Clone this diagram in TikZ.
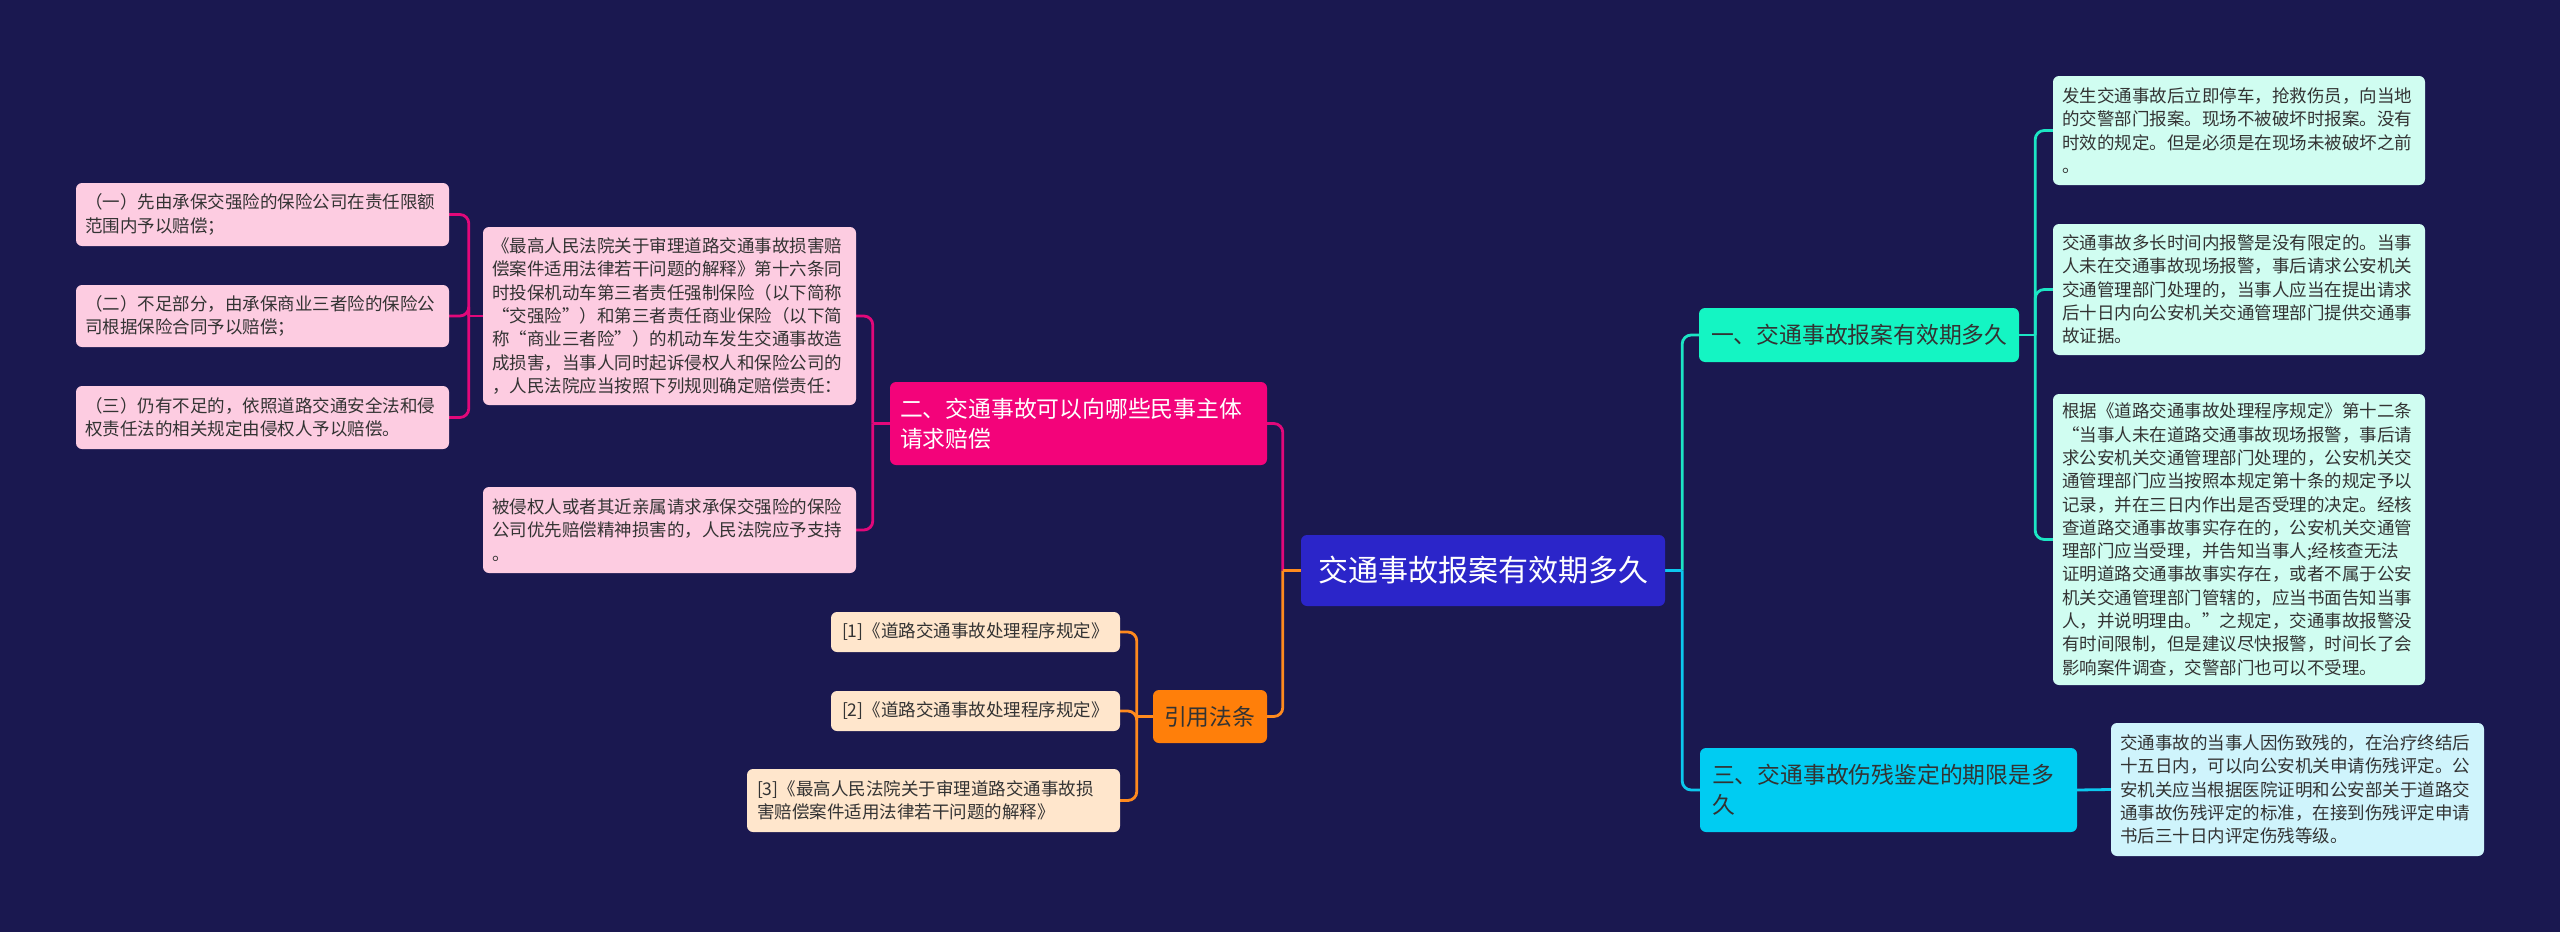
\documentclass[tikz,border=0pt]{standalone}
\usepackage{fontspec}
\setmainfont{Noto Sans CJK SC}
\definecolor{bgc}{HTML}{1A1850}
\definecolor{centc}{HTML}{2B25C9}
\definecolor{tealc}{HTML}{14F5C3}
\definecolor{cyanc}{HTML}{00CCF2}
\definecolor{magc}{HTML}{F3037A}
\definecolor{orc}{HTML}{FF7F0A}
\definecolor{lteal}{HTML}{D0FDF1}
\definecolor{lcyan}{HTML}{CFF4FC}
\definecolor{lpink}{HTML}{FDCCE1}
\definecolor{lor}{HTML}{FFE6CC}
\definecolor{kteal}{HTML}{1CE5C4}
\definecolor{kcyan}{HTML}{0CC8EE}
\definecolor{kmag}{HTML}{E2087A}
\definecolor{kor}{HTML}{FF8A1E}
\definecolor{txtd}{HTML}{333333}
\pgfdeclarelayer{bglayer}
\pgfsetlayers{bglayer,main}
\begin{document}
\begin{tikzpicture}[x=1pt,y=-1pt,
  box/.style={rounded corners=6pt, inner sep=0pt, align=left, text=txtd,
    font=\fontsize{17.5}{23.3}\selectfont},
  leafT/.style={box, fill=lteal},
  leafC/.style={box, fill=lcyan},
  leafP/.style={box, fill=lpink},
  leafO/.style={box, fill=lor},
  branchbox/.style={rounded corners=6pt, inner sep=0pt, align=left,
    font=\fontsize{22.8}{30}\selectfont},
  conn/.style={line width=2.8pt, rounded corners=9pt}
]
\useasboundingbox (0,0) rectangle (2560,932);

% center
\node[rounded corners=6pt, fill=centc, text=white, inner sep=0pt, align=center,
  minimum width=364pt, minimum height=71pt,
  font=\fontsize{30}{36}\selectfont] (c) at (1483,570.5) {交通事故报案有效期多久};

% right branches
\node[branchbox, fill=tealc, text=txtd, minimum width=320pt, minimum height=54pt, text width=296pt]
  (b1) at (1859,335) {一、交通事故报案有效期多久};
\node[branchbox, fill=cyanc, text=txtd, minimum width=377pt, minimum height=84pt, text width=353pt]
  (b3) at (1888.5,790) {三、交通事故伤残鉴定的期限是多\\久};

\node[leafT, minimum width=372pt, minimum height=109pt, text width=354pt] (l1a) at (2239,130.5)
 {发生交通事故后立即停车，抢救伤员，向当地\\的交警部门报案。现场不被破坏时报案。没有\\时效的规定。但是必须是在现场未被破坏之前\\。};
\node[leafT, minimum width=372pt, minimum height=131pt, text width=354pt] (l1b) at (2239,289.5)
 {交通事故多长时间内报警是没有限定的。当事\\人未在交通事故现场报警，事后请求公安机关\\交通管理部门处理的，当事人应当在提出请求\\后十日内向公安机关交通管理部门提供交通事\\故证据。};
\node[leafT, minimum width=372pt, minimum height=291pt, text width=354pt] (l1c) at (2239,539.5)
 {根据《道路交通事故处理程序规定》第十二条\\“当事人未在道路交通事故现场报警，事后请\\求公安机关交通管理部门处理的，公安机关交\\通管理部门应当按照本规定第十条的规定予以\\记录，并在三日内作出是否受理的决定。经核\\查道路交通事故事实存在的，公安机关交通管\\理部门应当受理，并告知当事人;经核查无法\\证明道路交通事故事实存在，或者不属于公安\\机关交通管理部门管辖的，应当书面告知当事\\人，并说明理由。”之规定，交通事故报警没\\有时间限制，但是建议尽快报警，时间长了会\\影响案件调查，交警部门也可以不受理。};
\node[leafC, minimum width=373pt, minimum height=133pt, text width=355pt] (l3) at (2297.5,789.5)
 {交通事故的当事人因伤致残的，在治疗终结后\\十五日内，可以向公安机关申请伤残评定。公\\安机关应当根据医院证明和公安部关于道路交\\通事故伤残评定的标准，在接到伤残评定申请\\书后三十日内评定伤残等级。};

% left branches
\node[branchbox, fill=magc, text=white, minimum width=377pt, minimum height=83pt, text width=357pt]
  (b2) at (1078.5,423.5) {二、交通事故可以向哪些民事主体\\请求赔偿};
\node[leafP, minimum width=373pt, minimum height=178pt, text width=355pt] (l2a) at (669.5,316)
 {《最高人民法院关于审理道路交通事故损害赔\\偿案件适用法律若干问题的解释》第十六条同\\时投保机动车第三者责任强制保险（以下简称\\“交强险”）和第三者责任商业保险（以下简\\称“商业三者险”）的机动车发生交通事故造\\成损害，当事人同时起诉侵权人和保险公司的\\，人民法院应当按照下列规则确定赔偿责任：};
\node[leafP, minimum width=373pt, minimum height=86pt, text width=355pt] (l2b) at (669.5,530)
 {被侵权人或者其近亲属请求承保交强险的保险\\公司优先赔偿精神损害的，人民法院应予支持\\。};
\node[leafP, minimum width=373pt, minimum height=63pt, text width=355pt] (s1) at (262.5,214.5)
 {（一）先由承保交强险的保险公司在责任限额\\范围内予以赔偿；};
\node[leafP, minimum width=373pt, minimum height=62pt, text width=355pt] (s2) at (262.5,316)
 {（二）不足部分，由承保商业三者险的保险公\\司根据保险合同予以赔偿；};
\node[leafP, minimum width=373pt, minimum height=63pt, text width=355pt] (s3) at (262.5,417.5)
 {（三）仍有不足的，依照道路交通安全法和侵\\权责任法的相关规定由侵权人予以赔偿。};

\node[branchbox, fill=orc, text=txtd, minimum width=114pt, minimum height=53pt, text width=92pt]
  (br) at (1210,716.5) {引用法条};
\node[leafO, minimum width=289pt, minimum height=40pt, text width=267pt] (o1) at (975.5,632)
 {[1]《道路交通事故处理程序规定》};
\node[leafO, minimum width=289pt, minimum height=40pt, text width=267pt] (o2) at (975.5,711)
 {[2]《道路交通事故处理程序规定》};
\node[leafO, minimum width=373pt, minimum height=63pt, text width=353pt] (o3) at (933.5,800.5)
 {[3]《最高人民法院关于审理道路交通事故损\\害赔偿案件适用法律若干问题的解释》};

\begin{pgfonlayer}{bglayer}
\fill[bgc] (0,0) rectangle (2560,932);
% center right
\draw[conn, kteal] (c.east) -- ++(17,0) coordinate (cr);
\draw[conn, kteal] (cr) |- (b1.west);
\draw[conn, kcyan] (cr) |- (b3.west);
\draw[conn, kcyan] (c.east) -- (cr);
% branch 1
\draw[conn, kteal] (b1.east) -- ++(16,0) coordinate (b1r);
\draw[conn, kteal] (b1r) |- (l1a.west);
\draw[conn, kteal] (b1r) |- (l1b.west);
\draw[conn, kteal] (b1r) |- (l1c.west);
% branch 3
\draw[conn, kcyan] (b3.east) -- (l3.west);
% center left
\draw[conn, kmag] (c.west) -- ++(-18,0) coordinate (cl);
\draw[conn, kmag] (cl) |- (b2.east);
\draw[conn, kor] (cl) |- (br.east);
\draw[conn, kor] (c.west) -- (cl);
% branch 2
\draw[conn, kmag] (b2.west) -- ++(-17,0) coordinate (b2l);
\draw[conn, kmag] (b2l) |- (l2a.east);
\draw[conn, kmag] (b2l) |- (l2b.east);
\draw[conn, kmag] (l2a.west) -- ++(-14,0) coordinate (l2al);
\draw[conn, kmag] (l2al) |- (s1.east);
\draw[conn, kmag] (l2al) |- (s2.east);
\draw[conn, kmag] (l2al) |- (s3.east);
% citations
\draw[conn, kor] (br.west) -- ++(-16,0) coordinate (brl);
\draw[conn, kor] (brl) |- (o1.east);
\draw[conn, kor] (brl) |- (o2.east);
\draw[conn, kor] (brl) |- (o3.east);
\end{pgfonlayer}
\end{tikzpicture}
\end{document}
